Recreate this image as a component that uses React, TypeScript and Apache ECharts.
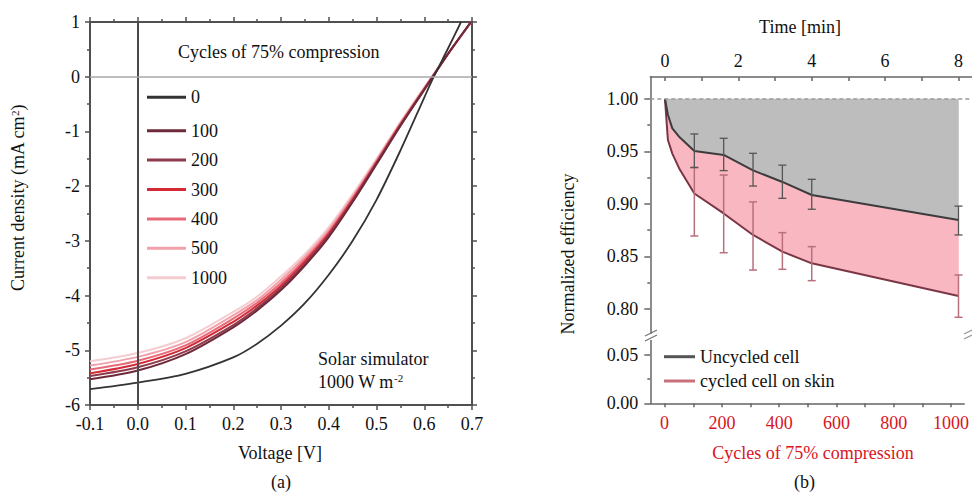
import React, { useEffect, useRef } from 'react';
import * as echarts from 'echarts';

const FONT = "'Liberation Serif', 'DejaVu Serif', 'Times New Roman', serif";

// ---------- Panel (a): J-V curves ----------
const cycleNames = ['0', '100', '200', '300', '400', '500', '1000'];
const curveColors = ['#333333', '#6e2a3a', '#8e3a4c', '#d42a36', '#e86a78', '#f2a0aa', '#f5cdd1'];

const voltageUncycled = [-0.1, 0, 0.1, 0.2, 0.25, 0.3, 0.35, 0.4, 0.45, 0.5, 0.55, 0.6, 0.62, 0.65, 0.677];
const current0 = [-5.71, -5.59, -5.43, -5.13, -4.88, -4.55, -4.14, -3.62, -3.0, -2.25, -1.35, -0.38, 0, 0.52, 1];

const voltageCycled = [-0.1, 0, 0.1, 0.2, 0.25, 0.3, 0.35, 0.4, 0.45, 0.5, 0.55, 0.6, 0.65, 0.698];
const current100 = [-5.53, -5.37, -5.07, -4.58, -4.27, -3.9, -3.45, -2.93, -2.29, -1.6, -0.9, -0.24, 0.42, 1];
const current200 = [-5.47, -5.31, -5.02, -4.54, -4.23, -3.86, -3.42, -2.9, -2.27, -1.58, -0.89, -0.23, 0.42, 1];
const current300 = [-5.42, -5.25, -4.96, -4.48, -4.18, -3.82, -3.38, -2.87, -2.25, -1.57, -0.88, -0.23, 0.42, 1];
const current400 = [-5.35, -5.19, -4.91, -4.42, -4.13, -3.77, -3.34, -2.84, -2.22, -1.55, -0.86, -0.22, 0.42, 1];
const current500 = [-5.28, -5.12, -4.85, -4.36, -4.08, -3.71, -3.29, -2.8, -2.19, -1.53, -0.85, -0.21, 0.42, 1];
const current1000 = [-5.2, -5.05, -4.78, -4.3, -4.02, -3.65, -3.24, -2.75, -2.15, -1.5, -0.83, -0.19, 0.42, 1];

// ---------- Panel (b): normalized efficiency ----------
const referenceLevel = 1.0;
const cycles = [0, 10, 25, 50, 100, 200, 300, 400, 500, 1000];
const uncycledEff = [1.0, 0.985, 0.972, 0.9635, 0.9505, 0.9467, 0.932, 0.921, 0.9086, 0.8848];
const cycledEff = [1.0, 0.961, 0.948, 0.933, 0.91, 0.891, 0.8705, 0.8546, 0.8435, 0.8124];

const errCycles = [100, 200, 300, 400, 500, 1000];
const uncycledLow = [0.9346, 0.9318, 0.9171, 0.9054, 0.895, 0.8705];
const uncycledHigh = [0.9667, 0.9626, 0.9483, 0.937, 0.9235, 0.898];
const cycledLow = [0.8695, 0.8536, 0.8371, 0.8378, 0.827, 0.7921];
const cycledHigh = [0.935, 0.9276, 0.902, 0.8727, 0.8594, 0.8324];

const cycleTicks = [0, 100, 200, 300, 400, 500, 600, 700, 800, 900, 1000];
const cycleLabels = [0, 200, 400, 600, 800, 1000];
const timeTicks = [0, 1, 2, 3, 4, 5, 6, 7, 8];
const timeLabels = [0, 2, 4, 6, 8];
const effMajor = [0.8, 0.85, 0.9, 0.95, 1.0];
const effMinor = [0.775, 0.825, 0.875, 0.925, 0.975];
const lowMajor = [0, 0.05];
const lowMinor = [0.025];

const RED = '#d8141e';
const AX_A = '#505050';
const AX_B = '#666666';

// axis ranges of panel (b): 1000 cycles = 8 min
const CYC_MIN = -50;
const CYC_MAX = 1046;
const TIME_MIN = CYC_MIN / 125;
const TIME_MAX = CYC_MAX / 125;

function pairs(xs: number[], ys: number[]) {
  return xs.map((x, i) => [x, ys[i]]);
}

function errorBarSeries(low: number[], high: number[], color: string, width: number) {
  return {
    type: 'custom',
    xAxisIndex: 2,
    yAxisIndex: 2,
    z: 5,
    silent: true,
    data: errCycles.map((c, i) => [c, low[i], high[i]]),
    encode: { x: 0, y: [1, 2] },
    renderItem: (_p: any, api: any) => {
      const x = api.value(0);
      const a = api.coord([x, api.value(1)]);
      const b = api.coord([x, api.value(2)]);
      const w = 4;
      const style = { stroke: color, lineWidth: width };
      return {
        type: 'group',
        children: [
          { type: 'line', shape: { x1: a[0], y1: a[1], x2: b[0], y2: b[1] }, style },
          { type: 'line', shape: { x1: a[0] - w, y1: a[1], x2: a[0] + w, y2: a[1] }, style },
          { type: 'line', shape: { x1: b[0] - w, y1: b[1], x2: b[0] + w, y2: b[1] }, style },
        ],
      };
    },
  };
}

// filled band between two curves (upper / lower) drawn as one polygon
function bandSeries(lower: number[], upper: number[], color: string) {
  return {
    type: 'custom',
    xAxisIndex: 2,
    yAxisIndex: 2,
    z: 1,
    silent: true,
    data: cycles.map((c, i) => [c, lower[i], upper[i]]),
    encode: { x: 0, y: [1, 2] },
    renderItem: (params: any, api: any) => {
      if (params.dataIndexInside !== 0) return null;
      const n = params.dataInsideLength;
      const top: number[][] = [];
      const bottom: number[][] = [];
      for (let j = 0; j < n; j++) {
        top.push(api.coord([api.value(0, j), api.value(2, j)]));
        bottom.push(api.coord([api.value(0, j), api.value(1, j)]));
      }
      return {
        type: 'polygon',
        shape: { points: top.concat(bottom.reverse()) },
        style: { fill: color, stroke: color, lineWidth: 0.5 },
      };
    },
  };
}

export default function App() {
  const ref = useRef<HTMLDivElement>(null);

  useEffect(() => {
    document.body.style.margin = '0';
    const chart = echarts.init(ref.current!, undefined, { renderer: 'svg' });

    const txt = { fontFamily: FONT, fontSize: 18, color: '#111' };

    const aAxisCommon = (show: boolean) => ({
      axisLine: { show: true, onZero: false, lineStyle: { color: AX_A, width: 2 } },
      axisTick: { show: true, inside: false, length: 5, lineStyle: { color: AX_A, width: 1.5 } },
      minorTick: { show: true, splitNumber: 2, length: 3, lineStyle: { color: AX_A, width: 1.5 } },
      splitLine: { show: false },
      minorSplitLine: { show: false },
      axisLabel: { show, ...txt, margin: 10 },
    });

    const redSets = [current100, current200, current300, current400, current500, current1000];

    const curveSeries: any[] = [];
    for (let k = redSets.length - 1; k >= 0; k--) {
      curveSeries.push({
        name: cycleNames[k + 1],
        type: 'line',
        xAxisIndex: 0,
        yAxisIndex: 0,
        data: pairs(voltageCycled, redSets[k]),
        smooth: 0.3,
        showSymbol: false,
        color: curveColors[k + 1],
        lineStyle: { color: curveColors[k + 1], width: 2 },
        z: 3,
      });
    }
    curveSeries.push({
      name: cycleNames[0],
      type: 'line',
      xAxisIndex: 0,
      yAxisIndex: 0,
      data: pairs(voltageUncycled, current0),
      smooth: 0.3,
      showSymbol: false,
      color: curveColors[0],
      lineStyle: { color: curveColors[0], width: 1.8 },
      z: 4,
      markLine: {
        silent: true,
        symbol: 'none',
        label: { show: false },
        data: [
          { xAxis: 0, lineStyle: { color: '#4a4a4a', width: 2, type: 'solid' } },
          { yAxis: 0, lineStyle: { color: '#a8a8a8', width: 1.5, type: 'solid' } },
        ],
      },
    });

    const refLine = cycles.map(() => referenceLevel);

    const bAxisLine = { show: true, onZero: false, lineStyle: { color: AX_B, width: 1.5 } };
    const bLeft = 650.3;
    const bWidth = 972 - bLeft;

    const option: any = {
      animation: false,
      backgroundColor: '#ffffff',
      grid: [
        { left: 90, top: 22, width: 382, height: 383 },
        { left: bLeft, top: 77, width: bWidth, height: 261.4 },
        { left: bLeft, top: 338.4, width: bWidth, height: 64.9 },
      ],
      xAxis: [
        { type: 'value', gridIndex: 0, min: -0.1, max: 0.7, interval: 0.1, position: 'bottom',
          ...aAxisCommon(true),
          axisLabel: { show: true, ...txt, margin: 10, formatter: (v: number) => v.toFixed(1) } },
        { type: 'value', gridIndex: 0, min: -0.1, max: 0.7, interval: 0.1, position: 'top', ...aAxisCommon(false) },
        { type: 'value', gridIndex: 1, min: CYC_MIN, max: CYC_MAX, show: false },
        { type: 'value', gridIndex: 1, min: TIME_MIN, max: TIME_MAX, position: 'top',
          axisLine: bAxisLine,
          axisTick: { show: true, inside: true, length: 4, customValues: timeTicks, lineStyle: { color: AX_B, width: 1.5 } },
          axisLabel: { show: true, ...txt, margin: 7, customValues: timeLabels, formatter: (v: number) => String(v) },
          splitLine: { show: false } },
        { type: 'value', gridIndex: 2, min: CYC_MIN, max: CYC_MAX, position: 'bottom',
          axisLine: bAxisLine,
          axisTick: { show: true, inside: false, length: 4, customValues: cycleTicks, lineStyle: { color: AX_B, width: 1.5 } },
          axisLabel: { show: true, ...txt, color: RED, margin: 11, customValues: cycleLabels, formatter: (v: number) => String(v) },
          splitLine: { show: false } },
      ],
      yAxis: [
        { type: 'value', gridIndex: 0, min: -6, max: 1, interval: 1, position: 'left', ...aAxisCommon(true) },
        { type: 'value', gridIndex: 0, min: -6, max: 1, interval: 1, position: 'right', ...aAxisCommon(false) },
        { type: 'value', gridIndex: 1, min: 0.772, max: 1.02095, position: 'left',
          axisLine: bAxisLine,
          axisTick: { show: true, inside: false, length: 6, customValues: effMajor, lineStyle: { color: AX_B, width: 1.5 } },
          axisLabel: { show: true, ...txt, margin: 12, customValues: effMajor, formatter: (v: number) => v.toFixed(2) },
          splitLine: { show: false } },
        { type: 'value', gridIndex: 1, min: 0.772, max: 1.02095, position: 'left',
          axisLine: { show: false, onZero: false },
          axisTick: { show: true, inside: false, length: 3, customValues: effMinor, lineStyle: { color: AX_B, width: 1.5 } },
          axisLabel: { show: false },
          splitLine: { show: false } },
        { type: 'value', gridIndex: 2, min: 0, max: 0.0672, position: 'left',
          axisLine: bAxisLine,
          axisTick: { show: true, inside: false, length: 6, customValues: lowMajor, lineStyle: { color: AX_B, width: 1.5 } },
          axisLabel: { show: true, ...txt, margin: 12, customValues: lowMajor, formatter: (v: number) => v.toFixed(2) },
          splitLine: { show: false } },
        { type: 'value', gridIndex: 2, min: 0, max: 0.0672, position: 'left',
          axisLine: { show: false, onZero: false },
          axisTick: { show: true, inside: false, length: 3, customValues: lowMinor, lineStyle: { color: AX_B, width: 1.5 } },
          axisLabel: { show: false },
          splitLine: { show: false } },
      ],
      legend: [
        { data: ['0'], left: 147, top: 88.3, padding: 0, icon: 'rect', itemWidth: 39, itemHeight: 3,
          textStyle: { ...txt, lineHeight: 18 } },
        { data: cycleNames.slice(1), orient: 'vertical', left: 147, top: 121.7, padding: 0, itemGap: 11.4,
          icon: 'rect', itemWidth: 39, itemHeight: 3, textStyle: { ...txt, lineHeight: 18 } },
        { data: [
            { name: 'Uncycled cell', itemStyle: { color: '#555555' } },
            { name: 'cycled cell on skin', itemStyle: { color: '#c8707c' } },
          ],
          orient: 'vertical', left: 664, top: 347.7, padding: 0, itemGap: 6.3,
          icon: 'rect', itemWidth: 31, itemHeight: 3, textStyle: { ...txt, lineHeight: 18 } },
      ],
      series: [
        ...curveSeries,
        bandSeries(cycledEff, uncycledEff, '#f9b7c1'),
        bandSeries(uncycledEff, refLine, '#bdbdbd'),
        { name: 'cycled cell on skin', type: 'line', xAxisIndex: 2, yAxisIndex: 2, data: pairs(cycles, cycledEff),
          showSymbol: false, color: '#7b3645', lineStyle: { color: '#7b3645', width: 2 }, z: 3 },
        { name: 'Uncycled cell', type: 'line', xAxisIndex: 2, yAxisIndex: 2, data: pairs(cycles, uncycledEff),
          showSymbol: false, color: '#3c3c3c', lineStyle: { color: '#3c3c3c', width: 2 }, z: 3,
          markLine: { silent: true, symbol: 'none', label: { show: false },
            data: [{ yAxis: referenceLevel, lineStyle: { color: '#9a9a9a', width: 1.5, type: [4, 3] } }] } },
        errorBarSeries(cycledLow, cycledHigh, '#b8707c', 1.5),
        errorBarSeries(uncycledLow, uncycledHigh, '#555555', 1.3),
      ],
      graphic: [
        { type: 'text', x: 178, y: 51.7, style: { text: 'Cycles of 75% compression', font: `18px ${FONT}`, fill: '#111', verticalAlign: 'middle' } },
        { type: 'text', x: 318, y: 359, style: { text: 'Solar simulator', font: `18px ${FONT}`, fill: '#111', verticalAlign: 'middle' } },
        { type: 'text', x: 318, y: 381.7, style: { text: '1000 W m{sup|-2}', font: `18px ${FONT}`, fill: '#111', verticalAlign: 'middle',
            rich: { sup: { fontSize: 11, fontFamily: FONT, verticalAlign: 'top', lineHeight: 18, fill: '#111' } } } },
        { type: 'text', x: 280, y: 453, style: { text: 'Voltage [V]', font: `18px ${FONT}`, fill: '#111', align: 'center', verticalAlign: 'middle' } },
        { type: 'text', x: 281, y: 482, style: { text: '(a)', font: `18px ${FONT}`, fill: '#111', align: 'center', verticalAlign: 'middle' } },
        { type: 'text', x: 18, y: 198, rotation: Math.PI / 2,
          style: { text: 'Current density (mA cm{sup|2})', font: `18px ${FONT}`, fill: '#111', align: 'center', verticalAlign: 'middle',
            rich: { sup: { fontSize: 11, fontFamily: FONT, verticalAlign: 'top', lineHeight: 18, fill: '#111' } } } },
        { type: 'text', x: 800, y: 26.7, style: { text: 'Time [min]', font: `18px ${FONT}`, fill: '#111', align: 'center', verticalAlign: 'middle' } },
        { type: 'text', x: 568, y: 254, rotation: Math.PI / 2,
          style: { text: 'Normalized efficiency', font: `18px ${FONT}`, fill: '#111', align: 'center', verticalAlign: 'middle' } },
        { type: 'text', x: 897, y: 128.3, style: { text: 'Chemical', font: `18px ${FONT}`, fill: '#111', align: 'center', verticalAlign: 'middle' } },
        { type: 'text', x: 897, y: 151.7, style: { text: 'degradation', font: `18px ${FONT}`, fill: '#111', align: 'center', verticalAlign: 'middle' } },
        { type: 'text', x: 882, y: 226.7, style: { text: 'Mechanical', font: `18px ${FONT}`, fill: RED, align: 'center', verticalAlign: 'middle' } },
        { type: 'text', x: 882, y: 250, style: { text: 'degradation', font: `18px ${FONT}`, fill: RED, align: 'center', verticalAlign: 'middle' } },
        { type: 'text', x: 813, y: 453.3, style: { text: 'Cycles of 75% compression', font: `18px ${FONT}`, fill: RED, align: 'center', verticalAlign: 'middle' } },
        { type: 'text', x: 804.5, y: 482, style: { text: '(b)', font: `18px ${FONT}`, fill: '#111', align: 'center', verticalAlign: 'middle' } },
        // axis break marks
        { type: 'rect', shape: { x: 647, y: 334, width: 8, height: 6 }, style: { fill: '#ffffff' }, z: 100 },
        { type: 'line', shape: { x1: 645, y1: 336, x2: 657, y2: 330 }, style: { stroke: '#777', lineWidth: 1.3 }, z: 101 },
        { type: 'line', shape: { x1: 645, y1: 341, x2: 657, y2: 335 }, style: { stroke: '#777', lineWidth: 1.3 }, z: 101 },
        { type: 'line', shape: { x1: 964, y1: 334, x2: 972, y2: 330 }, style: { stroke: '#999', lineWidth: 1.3 }, z: 101 },
        { type: 'line', shape: { x1: 964, y1: 339, x2: 972, y2: 335 }, style: { stroke: '#999', lineWidth: 1.3 }, z: 101 },
      ],
    };

    chart.setOption(option);
    return () => chart.dispose();
  }, []);

  return <div ref={ref} style={{ width: 972, height: 493 }} />;
}
